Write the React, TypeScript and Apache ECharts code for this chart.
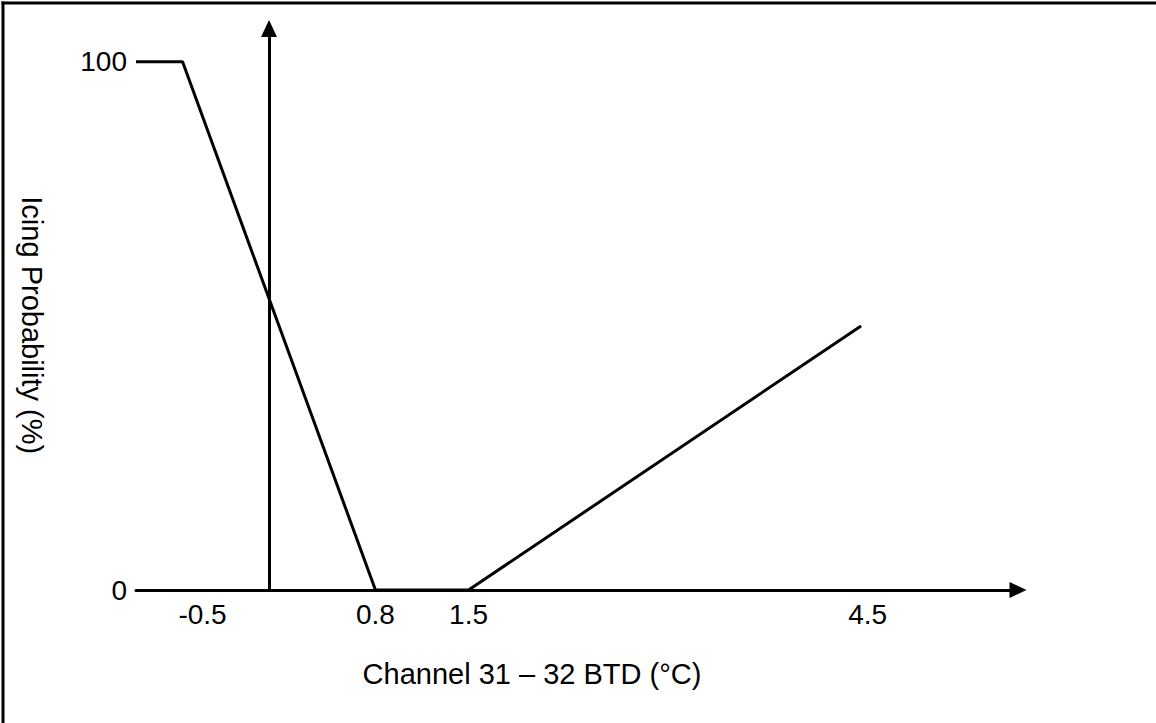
import React, { useEffect, useRef } from "react";
import * as echarts from "echarts";

// Data
const btdValues = [-1.0, -0.65, 0.8, 1.5, 4.45];
const icingProbability = [100, 100, 0, 0, 50];
const xTickValues = [-0.5, 0.8, 1.5, 4.5];
const yTickValues = [0, 100];
const xRange = [-1, 5.63];
const yRange = [0, 106.3];
const xTitle = "Channel 31 – 32 BTD (°C)";
const yTitle = "Icing Probability (%)";

export default function App() {
  const ref = useRef<HTMLDivElement>(null);

  useEffect(() => {
    if (!ref.current) return;
    const chart = echarts.init(ref.current, null, { renderer: "svg" });
    const font = "'Liberation Sans', Arial, Helvetica, sans-serif";
    const points = btdValues.map((x, i) => [x, icingProbability[i]]);

    chart.setOption({
      animation: false,
      backgroundColor: "#ffffff",
      textStyle: { fontFamily: font, color: "#000" },
      grid: { left: 136, right: 138, top: 28.5, bottom: 133, containLabel: false },
      xAxis: {
        type: "value",
        min: xRange[0],
        max: xRange[1],
        axisLine: {
          show: true,
          onZero: false,
          symbol: ["none", "triangle"],
          symbolSize: [16, 17],
          lineStyle: { color: "#000", width: 3 },
        },
        axisTick: { show: false },
        splitLine: { show: false },
        axisLabel: {
          customValues: xTickValues,
          color: "#000",
          fontSize: 28,
          fontFamily: font,
          margin: 10,
        },
        name: xTitle,
        nameLocation: "middle",
        nameGap: 69,
        nameTextStyle: {
          color: "#000",
          fontSize: 29,
          fontFamily: font,
          padding: [0, 90, 0, 0],
        },
      },
      yAxis: {
        type: "value",
        min: yRange[0],
        max: yRange[1],
        axisLine: { show: false },
        axisTick: { show: false },
        splitLine: { show: false },
        axisLabel: {
          customValues: yTickValues,
          color: "#000",
          fontSize: 28,
          fontFamily: font,
          margin: 9,
        },
        name: yTitle,
        nameLocation: "middle",
        nameRotate: -90,
        nameGap: 90,
        nameTextStyle: {
          color: "#000",
          fontSize: 29,
          fontFamily: font,
          padding: [0, 0, 0, 32],
        },
      },
      graphic: [
        {
          type: "line",
          shape: { x1: 3, y1: 1.5, x2: 3, y2: 723 },
          style: { stroke: "#000", lineWidth: 3 },
          silent: true,
        },
        {
          type: "line",
          shape: { x1: 1.5, y1: 3, x2: 1156, y2: 3 },
          style: { stroke: "#000", lineWidth: 3 },
          silent: true,
        },
      ],
      series: [
        {
          type: "line",
          data: points,
          showSymbol: false,
          symbol: "none",
          clip: false,
          lineStyle: { color: "#000", width: 3 },
          z: 3,
          markLine: {
            silent: true,
            symbol: ["none", "triangle"],
            symbolSize: [16, 17],
            label: { show: false },
            emphasis: { disabled: true },
            lineStyle: { color: "#000", width: 3, type: "solid" },
            data: [[{ coord: [0, yRange[0]] }, { coord: [0, yRange[1]] }]],
          },
        },
      ],
    });

    return () => chart.dispose();
  }, []);

  return (
    <div
      ref={ref}
      style={{ position: "fixed", left: 0, top: 0, width: 1156, height: 723, background: "#fff" }}
    />
  );
}
